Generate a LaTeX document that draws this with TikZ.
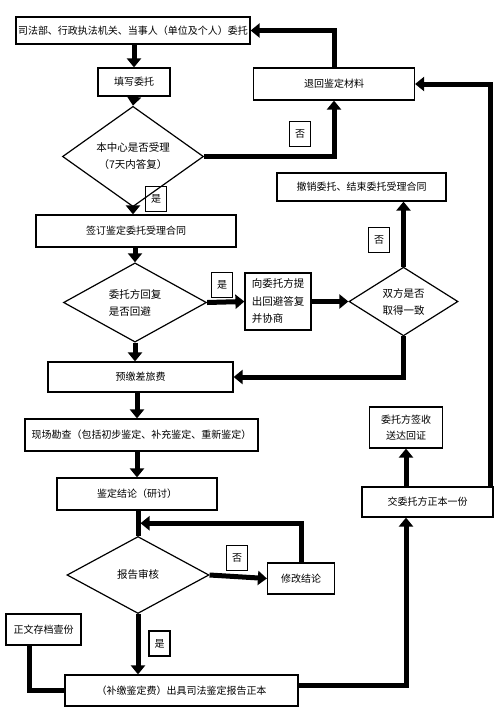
\documentclass[tikz,border=0pt]{standalone}
\usepackage{fontspec}
\setmainfont{Noto Sans CJK SC}
\usetikzlibrary{arrows.meta,shapes.geometric,calc}
\tikzset{
  box/.style={draw, line width=1.2pt, inner sep=0pt, align=center, font=\fontsize{10}{16}\selectfont},
  dia/.style={draw, diamond, line width=1.2pt, inner sep=0pt, align=center, font=\fontsize{10.5}{17}\selectfont},
  lbl/.style={draw, line width=1.1pt, inner sep=0pt, minimum width=21pt, minimum height=25pt, font=\fontsize{10}{12}\selectfont},
  arr/.style={line width=5pt, -{Triangle[width=14pt,length=9pt]}},
  thk/.style={line width=5pt},
}
\begin{document}
\begin{tikzpicture}[x=1pt,y=-1pt]
\useasboundingbox (0,0) rectangle (500,710);
% boxes
\node[box, minimum width=234pt, minimum height=27pt] (b1) at (133,30.5) {司法部、行政执法机关、当事人（单位及个人）委托};
\node[box, minimum width=72pt, minimum height=28pt] (b2) at (134,82) {填写委托};
\node[dia, minimum width=141pt, minimum height=63pt] (d1) at (133,156.5) {本中心是否受理\\（7天内答复）};
\node[box, minimum width=161pt, minimum height=32pt] (back) at (334,84) {退回鉴定材料};
\node[lbl] (no1) at (300,134) {否};
\node[lbl] (yes1) at (156,199) {是};
\node[box, minimum width=200pt, minimum height=32pt] (b3) at (136,231) {签订鉴定委托受理合同};
\node[dia, minimum width=143pt, minimum height=65pt, align=left] (d2) at (135,302.5) {委托方回复\\是否回避};
\node[lbl] (yes2) at (222,285) {是};
\node[box, minimum width=66pt, minimum height=57pt, align=left, font=\fontsize{10.5}{17.5}\selectfont] (b4) at (278,301.5) {向委托方提\\出回避答复\\并协商};
\node[dia, minimum width=109pt, minimum height=63pt] (d3) at (403.5,301.5) {双方是否\\取得一致};
\node[box, minimum width=169pt, minimum height=28pt] (b5) at (361.5,187) {撤销委托、结束委托受理合同};
\node[lbl] (no2) at (379,240) {否};
\node[box, minimum width=185pt, minimum height=30pt] (b6) at (140.5,377) {预缴差旅费};
\node[box, minimum width=233pt, minimum height=32pt] (b7) at (141.5,435) {现场勘查（包括初步鉴定、补充鉴定、重新鉴定）};
\node[box, minimum width=160pt, minimum height=32pt] (b8) at (137,494) {鉴定结论（研讨）};
\node[dia, minimum width=142pt, minimum height=77pt] (d4) at (138,575) {报告审核};
\node[box, minimum width=67pt, minimum height=31pt] (b9) at (301,578.5) {修改结论};
\node[lbl] (no3) at (237,558) {否};
\node[lbl] (yes3) at (159.5,643.5) {是};
\node[box, minimum width=75pt, minimum height=31pt] (b10) at (43.5,629.5) {正文存档壹份};
\node[box, minimum width=233pt, minimum height=31pt] (b11) at (181.5,690.5) {（补缴鉴定费）出具司法鉴定报告正本};
\node[box, minimum width=131pt, minimum height=30pt] (b12) at (427.5,502) {交委托方正本一份};
\node[box, minimum width=73pt, minimum height=41pt] (b13) at (406,427.5) {委托方签收\\送达回证};
% connectors
\draw[arr] (b2.north |- b1.south) -- (b2.north);
\draw[arr] (b2.south) -- (d1.north);
\draw[arr] (d1.east) -| (back.south);
\draw[arr] (back.north) |- (b1.east);
\draw[arr] ([xshift=-3pt]b12.north east) |- (back.east);
\draw[arr] (d1.south) -- (d1.south |- b3.north);
\draw[arr] (d2.north |- b3.south) -- (d2.north);
\draw[arr] (d2.east) -- (b4.west);
\draw[arr] (b4.east) -- (d3.west);
\draw[arr] (d3.north) -- (d3.north |- b5.south);
\draw[arr] (d3.south) |- (b6.east);
\draw[arr] (d2.south) -- (d2.south |- b6.north);
\draw[arr] (b8.north |- b6.south) -- (b8.north |- b7.north);
\draw[arr] (b8.north |- b7.south) -- (b8.north);
\draw[thk] (b8.south -| d4.north) -- (d4.north);
\coordinate (mrg) at ($(b8.south -| d4.north)!0.5!(d4.north)$);
\draw[arr, shorten >=2.5pt] (b9.north) |- (mrg);
\draw[arr] (d4.east) -- (b9.west);
\draw[arr] (d4.south) -- (d4.south |- b11.north);
\draw[thk] ([xshift=-14.5pt]b10.south) |- (b11.west);
\draw[arr] ([yshift=5pt]b11.east) -| (b13.south |- b12.south);
\draw[arr] (b13.south |- b12.north) -- (b13.south);
\end{tikzpicture}
\end{document}
